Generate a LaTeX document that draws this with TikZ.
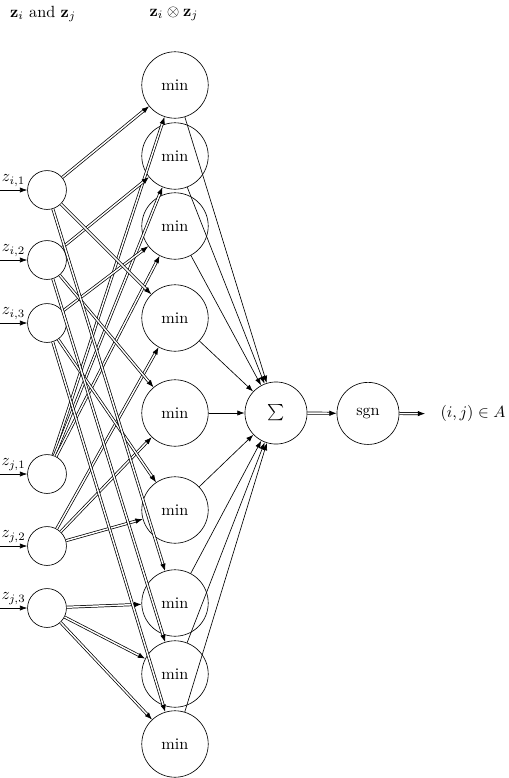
\documentclass[tikz,border=0pt]{standalone}
\usetikzlibrary{arrows.meta}
\begin{document}
\begin{tikzpicture}[x=0.617pt,y=-0.617pt,
  inp/.style={circle,draw,minimum size=24pt,inner sep=0pt},
  minnode/.style={circle,draw,minimum size=41pt,inner sep=0pt},
  opnode/.style={circle,draw,minimum size=38.3pt,inner sep=0pt},
  dbl/.style={line width=0.45pt,double,double distance=0.9pt,-{Latex[length=4.5pt,width=3.4pt]}},
  sgl/.style={-{Latex[length=4.5pt,width=3.2pt]}},
  lab/.style={midway,above,inner sep=2pt}
]
\useasboundingbox (0,0) rectangle (508,778);
% headers
\node (h1) at (43,14) {$\mathbf{z}_i$ and $\mathbf{z}_j$};
\node (h2) at (174,14) {$\mathbf{z}_i\otimes\mathbf{z}_j$};
% input nodes
\node[inp] (i1) at (47,190) {};
\node[inp] (i2) at (47,260) {};
\node[inp] (i3) at (47,323) {};
\node[inp] (j1) at (47,474) {};
\node[inp] (j2) at (47,546) {};
\node[inp] (j3) at (47,608) {};
\coordinate (ci1) at (0,190);
\coordinate (ci2) at (0,260);
\coordinate (ci3) at (0,323);
\coordinate (cj1) at (0,474);
\coordinate (cj2) at (0,546);
\coordinate (cj3) at (0,608);
\draw[sgl] (ci1) -- node[lab] {$z_{i,1}$} (i1);
\draw[sgl] (ci2) -- node[lab] {$z_{i,2}$} (i2);
\draw[sgl] (ci3) -- node[lab] {$z_{i,3}$} (i3);
\draw[sgl] (cj1) -- node[lab] {$z_{j,1}$} (j1);
\draw[sgl] (cj2) -- node[lab] {$z_{j,2}$} (j2);
\draw[sgl] (cj3) -- node[lab] {$z_{j,3}$} (j3);
% min nodes
\foreach \k/\y in {1/85,2/156,3/226,4/318,5/413,6/510,7/603,8/674,9/744}
  \node[minnode] (m\k) at (175,\y) {min};
% sum, sgn, output
\node[opnode] (sum) at (276,413) {$\sum$};
\node[opnode] (sgn) at (368,413.4) {sgn};
\node (out) at (473,413.8) {$(i,j)\in A$};
% connections
\foreach \k/\a/\b in {1/1/1,2/2/1,3/3/1,4/1/2,5/2/2,6/3/2,7/1/3,8/2/3,9/3/3}{
  \draw[dbl] (i\a) -- (m\k);
  \draw[dbl] (j\b) -- (m\k);
  \draw[sgl] (m\k) -- (sum);
}
\draw[dbl] (sum) -- (sgn);
\draw[dbl,shorten >=6pt] (sgn) -- (out);
\end{tikzpicture}
\end{document}
